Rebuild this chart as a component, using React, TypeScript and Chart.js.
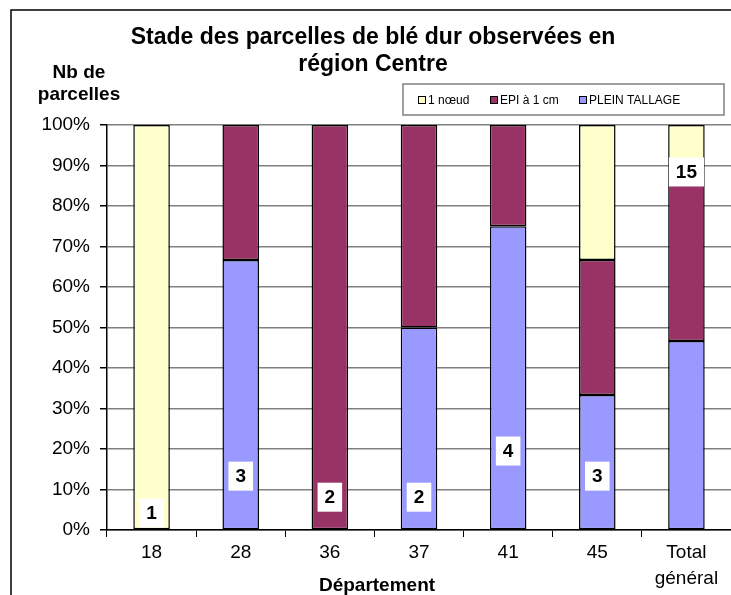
import React, { useEffect, useRef } from 'react';
import { Chart, registerables } from 'chart.js';

Chart.register(...registerables);

const FONT = '"Liberation Sans", Arial, Helvetica, sans-serif';

const titleLines = ['Stade des parcelles de blé dur observées en', 'région Centre'];
const yTitleLines = ['Nb de', 'parcelles'];
const xTitle = 'Département';

const departements: (string | string[])[] = ['18', '28', '36', '37', '41', '45', ['Total', 'général']];
const seriesNames = ['PLEIN TALLAGE', 'EPI à 1 cm', '1 nœud'];
const pleinTallage = [0, 2, 0, 1, 3, 1, 7];
const epi1cm = [0, 1, 2, 1, 1, 1, 6];
const unNoeud = [1, 0, 0, 0, 0, 1, 2];
const totals = [1, 3, 2, 2, 4, 3, 15];
// level (in % of the y axis) where each count label sits
const labelLevels = [4.2, 13.3, 8.1, 8.1, 19.5, 13.3, 88.4];

const colors = ['#9999FF', '#993366', '#FFFFCC'];

const toPct = (arr: number[]) => arr.map((v, i) => (v === 0 ? null : (v / totals[i]) * 100));

const decorPlugin = {
  id: 'decor',
  beforeDraw(chart: any) {
    const ctx = chart.ctx;
    ctx.save();
    ctx.fillStyle = '#fff';
    ctx.fillRect(0, 0, chart.width, chart.height);
    ctx.restore();
  },
  afterDatasetsDraw(chart: any) {
    const ctx = chart.ctx;
    const xs = chart.scales.x;
    const ys = chart.scales.y;
    ctx.save();
    ctx.font = `bold 19px ${FONT}`;
    ctx.textAlign = 'center';
    ctx.textBaseline = 'middle';
    totals.forEach((t, i) => {
      const x = xs.getPixelForValue(i);
      const y = ys.getPixelForValue(labelLevels[i]);
      const txt = String(t);
      const w = ctx.measureText(txt).width + 14;
      const h = 29;
      ctx.fillStyle = '#fff';
      ctx.fillRect(x - w / 2, y - h / 2, w, h);
      ctx.fillStyle = '#000';
      ctx.fillText(txt, x, y + 1);
    });
    ctx.restore();
  },
  afterDraw(chart: any) {
    const ctx = chart.ctx;
    ctx.save();
    // outer frame (left and top)
    ctx.strokeStyle = '#000';
    ctx.lineWidth = 1.5;
    ctx.beginPath();
    ctx.moveTo(11, chart.height);
    ctx.lineTo(11, 10);
    ctx.lineTo(chart.width, 10);
    ctx.stroke();

    // title
    ctx.fillStyle = '#000';
    ctx.textAlign = 'center';
    ctx.textBaseline = 'alphabetic';
    ctx.font = `bold 23px ${FONT}`;
    ctx.fillText(titleLines[0], 373, 44);
    ctx.fillText(titleLines[1], 373, 71);

    // y title
    ctx.font = `bold 19px ${FONT}`;
    ctx.fillText(yTitleLines[0], 79, 78);
    ctx.fillText(yTitleLines[1], 79, 100);

    // x title
    ctx.fillText(xTitle, 377, 591);

    // legend
    ctx.strokeStyle = '#808080';
    ctx.lineWidth = 1.5;
    ctx.strokeRect(403, 84, 321, 31);
    const legendOrder = [2, 1, 0];
    const legendX = [418, 490, 579];
    ctx.font = `12px ${FONT}`;
    ctx.textAlign = 'left';
    ctx.textBaseline = 'middle';
    legendOrder.forEach((di, k) => {
      const ds = chart.data.datasets[di];
      const x = legendX[k];
      ctx.fillStyle = ds.backgroundColor;
      ctx.fillRect(x, 96, 8, 8);
      ctx.strokeStyle = '#000';
      ctx.lineWidth = 1;
      ctx.strokeRect(x + 0.5, 96.5, 7, 7);
      ctx.fillStyle = '#000';
      ctx.fillText(ds.label, x + 10, 100.5);
    });
    ctx.restore();
  },
};

export default function App() {
  const canvasRef = useRef<HTMLCanvasElement | null>(null);

  useEffect(() => {
    if (!canvasRef.current) return;
    Chart.defaults.font.family = FONT;
    const series = [pleinTallage, epi1cm, unNoeud];
    const chart = new Chart(canvasRef.current, {
      type: 'bar',
      data: {
        labels: departements,
        datasets: series.map((s, i) => ({
          label: seriesNames[i],
          data: toPct(s),
          backgroundColor: colors[i],
          borderColor: '#000',
          borderWidth: 1.5,
          borderSkipped: false,
          barPercentage: 0.41,
          categoryPercentage: 1.0,
        })),
      },
      options: {
        responsive: false,
        animation: false,
        devicePixelRatio: 1,
        layout: { padding: { top: 125, left: 0, right: 0, bottom: 0 } },
        plugins: {
          legend: { display: false },
          title: { display: false },
          tooltip: { enabled: false },
        },
        scales: {
          x: {
            stacked: true,
            ticks: {
              color: '#000',
              font: { size: 19, lineHeight: 1.37 },
              padding: 3,
              maxRotation: 0,
              autoSkip: false,
            },
            grid: {
              drawOnChartArea: false,
              drawTicks: true,
              tickLength: 7,
              color: '#000',
              offset: true,
            },
            border: { color: '#000', width: 1.5 },
            afterFit: (a: any) => {
              a.height = 65;
            },
          },
          y: {
            stacked: true,
            min: 0,
            max: 100,
            ticks: {
              stepSize: 10,
              color: '#000',
              font: { size: 19 },
              padding: 10,
              callback: (v: any) => `${v}%`,
            },
            grid: {
              color: '#808080',
              lineWidth: 1.5,
              tickColor: '#000',
              tickLength: 7,
              drawTicks: true,
            },
            border: { color: '#000', width: 1.5 },
            afterFit: (a: any) => {
              a.width = 107;
            },
          },
        },
      },
      plugins: [decorPlugin],
    });
    return () => chart.destroy();
  }, []);

  return (
    <div style={{ position: 'fixed', left: 0, top: 0, width: 731, height: 595, background: '#fff' }}>
      <canvas ref={canvasRef} width={731} height={595} style={{ display: 'block' }} />
    </div>
  );
}
